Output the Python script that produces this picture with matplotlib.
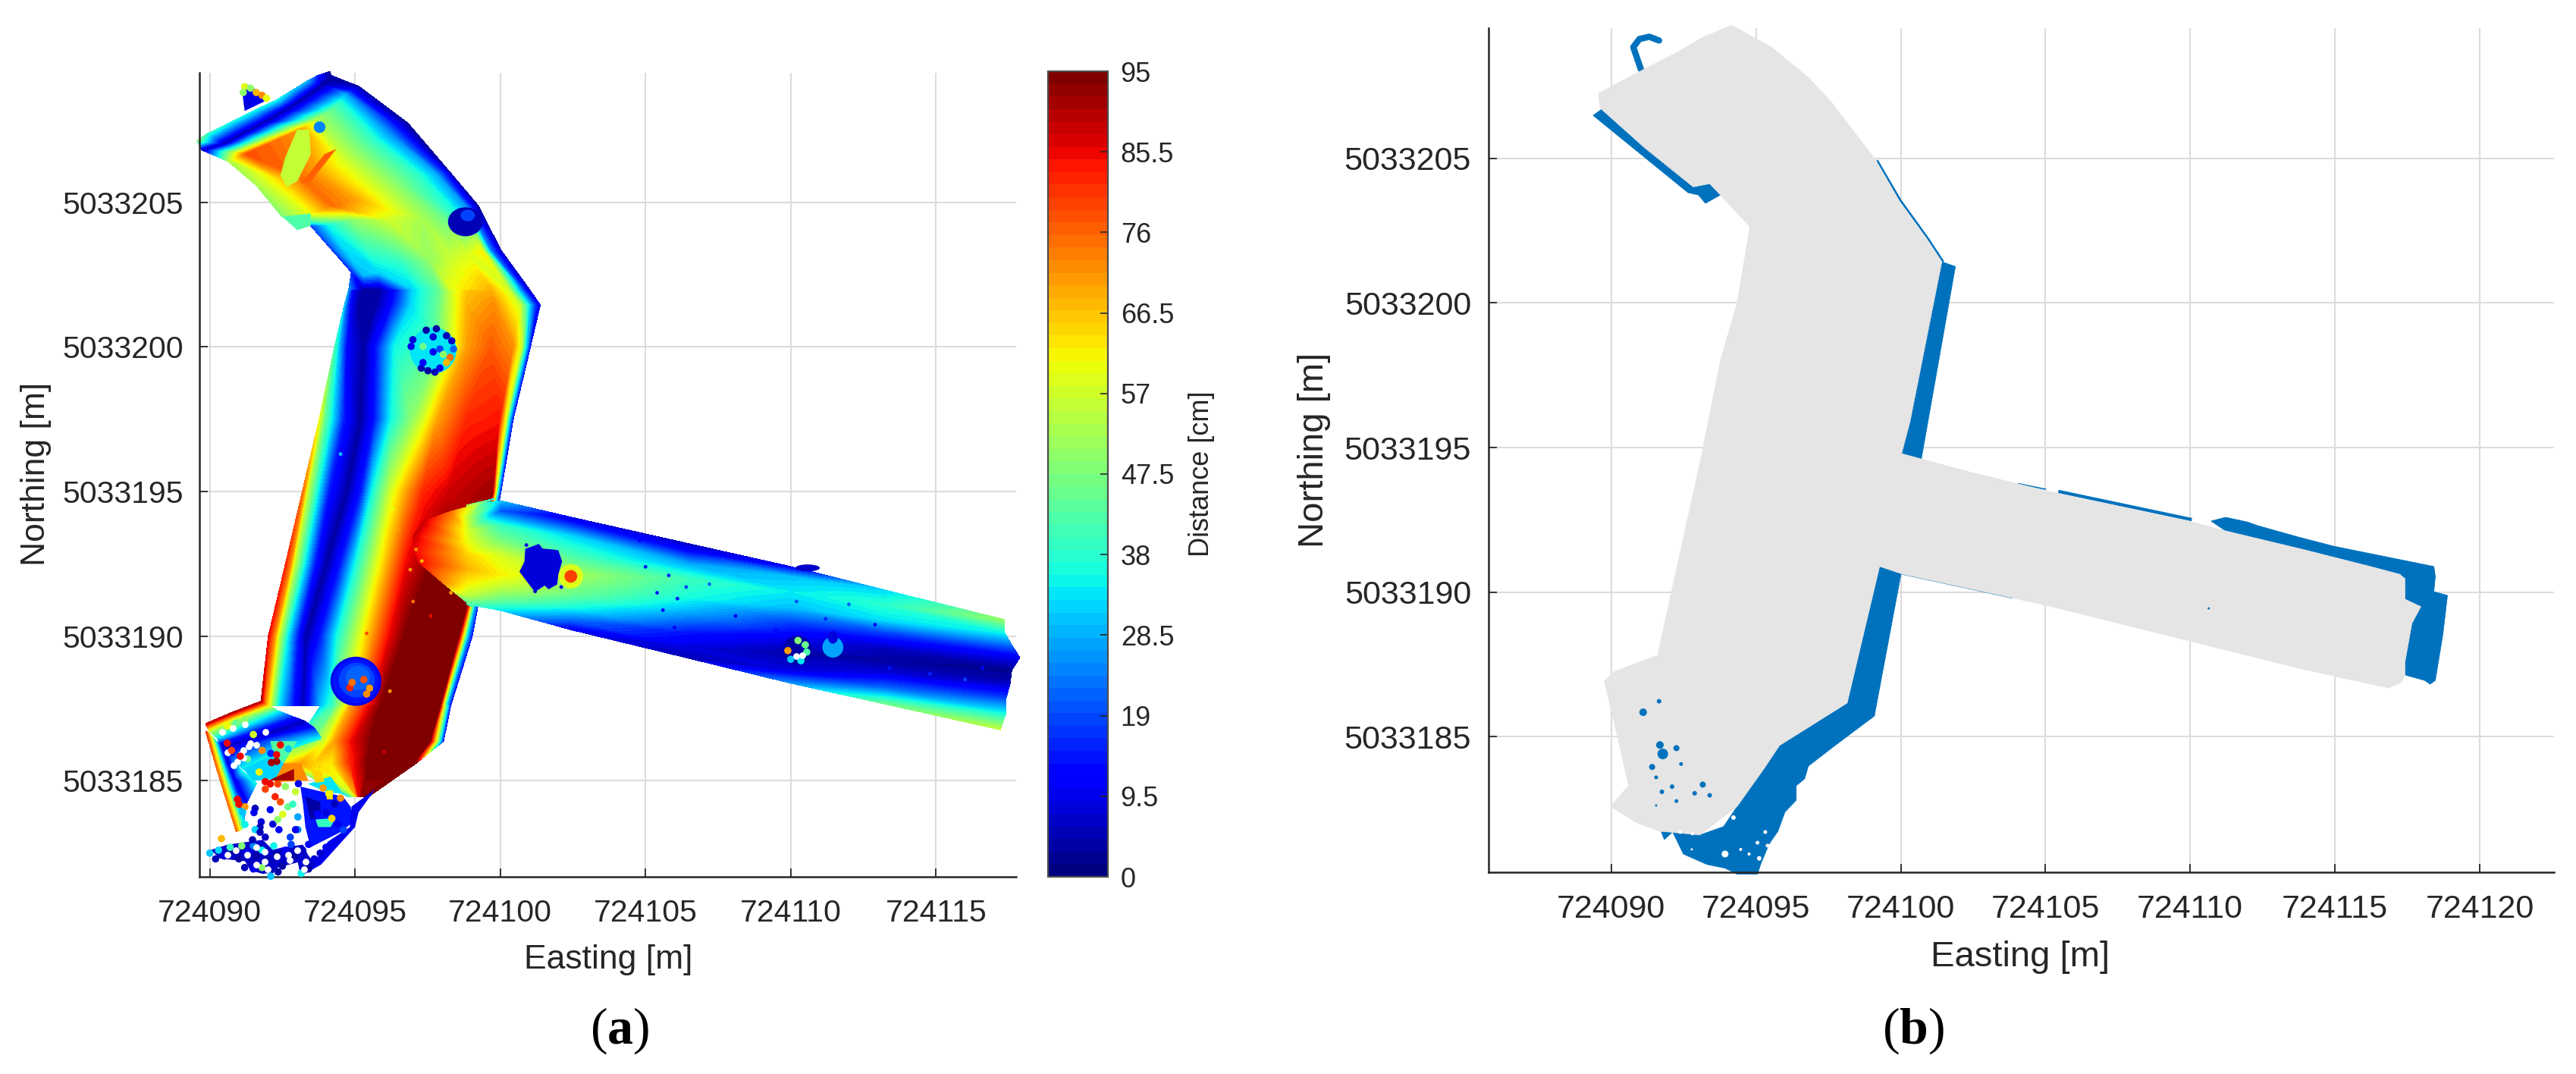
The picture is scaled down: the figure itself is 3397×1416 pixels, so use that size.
import numpy as np
import matplotlib
matplotlib.use('Agg')
import matplotlib.pyplot as plt
import matplotlib.tri as mtri
from matplotlib.cm import ScalarMappable
from matplotlib.colors import Normalize
from matplotlib.patches import Ellipse

plt.rcParams['font.family'] = ['Liberation Sans', 'DejaVu Sans']
plt.rcParams['mathtext.fontset'] = 'custom'
plt.rcParams['mathtext.bf'] = 'Liberation Serif:bold'
plt.rcParams['mathtext.rm'] = 'Liberation Serif'

# coordinates below are metres relative to these
E0 = 724000
N0 = 5033000

# ---- panel (a): distance readings, rows of cross sections ----
main_n = [187.6, 190.0, 192.5, 195.0, 197.5, 200.0, 201.45, 202.0]
main_e = [
    [91.75, 91.90, 92.08, 92.34, 92.84, 93.22, 93.83, 94.24, 94.71, 95.12, 95.53, 95.93, 97.92, 98.04, 98.15, 98.29],
    [92.02, 92.22, 92.37, 92.66, 93.01, 93.31, 93.83, 94.36, 95.12, 95.58, 96.17, 96.75, 98.56, 98.74, 98.86, 99.03],
    [92.61, 92.78, 92.90, 93.25, 93.60, 94.01, 94.53, 95.00, 95.70, 96.17, 96.75, 97.69, 99.21, 99.32, 99.42, 99.50],
    [93.19, 93.27, 93.34, 93.71, 94.07, 94.71, 95.23, 95.58, 96.23, 96.69, 97.34, 98.27, 99.73, 99.85, 99.93, 100.02],
    [93.77, 93.86, 93.95, 94.18, 94.59, 95.18, 95.70, 96.23, 96.99, 97.34, 97.86, 98.86, 99.96, 100.20, 100.32, 100.44],
    [94.30, 94.33, 94.37, 94.44, 94.71, 95.29, 95.76, 96.34, 97.80, 98.27, 98.86, 99.67, 100.43, 100.72, 100.90, 101.03],
    [94.64, 94.67, 94.74, 94.88, 95.14, 95.70, 96.23, 96.93, 97.86, 98.33, 98.86, 99.79, 100.67, 100.96, 101.19, 101.37],
    [94.79, 94.82, 94.88, 95.00, 95.29, 95.82, 96.34, 96.99, 97.92, 98.33, 98.86, 99.67, 100.26, 100.55, 100.78, 100.99],
]
main_v = [
    [90, 72, 57, 35, 15, 5, 30, 40, 60, 70, 85, 95, 95, 57, 30, 12],
    [85, 72, 57, 35, 15, 3, 15, 35, 57, 70, 85, 95, 95, 57, 30, 12],
    [82, 72, 57, 35, 15, 3, 15, 35, 57, 70, 85, 95, 95, 57, 30, 12],
    [75, 68, 57, 35, 15, 3, 15, 35, 57, 68, 82, 88, 92, 57, 30, 12],
    [60, 52, 45, 35, 15, 3, 15, 35, 50, 57, 70, 82, 84, 57, 30, 12],
    [40, 38, 36, 30, 12, 3, 15, 35, 45, 57, 70, 77, 72, 57, 30, 12],
    [30, 25, 18, 10, 3, 3, 12, 32, 45, 57, 68, 72, 57, 35, 18, 8],
    [25, 20, 15, 8, 3, 3, 12, 32, 45, 57, 66, 68, 57, 35, 18, 5],
]

arm_e = [
    [94.79, 95.29, 95.82, 96.99, 97.92, 98.33, 99.67, 100.26, 100.78, 100.99],
    [94.88, 95.29, 95.82, 96.64, 97.57, 98.27, 98.86, 99.38, 99.67, 100.02],
    [93.48, 94.07, 95.00, 96.17, 97.34, 98.04, 98.50, 98.86, 99.09, 99.23],
    [92.49, 93.48, 94.18, 95.00, 95.70, 96.40, 97.22, 97.80, 98.10, 98.27],
    [91.61, 92.43, 93.07, 93.71, 94.53, 95.12, 95.70, 96.17, 96.52, 96.81],
    [90.62, 91.26, 92.31, 93.13, 93.71, 94.18, 94.47, 94.65, 94.88, 95.12],
    [89.74, 90.50, 91.14, 91.85, 92.55, 93.13, 93.60, 93.89, 94.07, 94.18],
    [89.57, 89.92, 90.68, 91.50, 92.31, 92.90, 93.36, 93.71, 94.01, 94.12],
]
arm_n = [
    [202.0, 202.0, 202.0, 202.0, 202.0, 202.0, 202.0, 202.0, 202.0, 202.0],
    [202.59, 202.50, 202.59, 202.83, 203.01, 203.11, 203.20, 203.30, 203.30, 203.34],
    [204.19, 204.23, 204.42, 204.42, 204.42, 204.42, 204.61, 204.79, 204.84, 204.89],
    [204.51, 204.61, 204.89, 205.07, 205.45, 205.73, 205.92, 205.96, 206.01, 206.03],
    [205.59, 205.82, 205.92, 206.01, 206.48, 206.81, 207.13, 207.42, 207.60, 207.74],
    [206.43, 206.67, 207.13, 207.51, 207.88, 208.16, 208.45, 208.73, 208.87, 209.01],
    [206.81, 207.04, 207.37, 207.74, 208.16, 208.54, 208.87, 209.10, 209.24, 209.38],
    [207.13, 207.37, 207.74, 208.16, 208.54, 208.91, 209.19, 209.38, 209.48, 209.52],
]
arm_v = [
    [25, 3, 3, 32, 45, 60, 68, 57, 18, 5],
    [15, 30, 32, 38, 50, 56, 58, 62, 25, 5],
    [18, 35, 50, 57, 52, 46, 36, 26, 10, 2],
    [48, 60, 75, 70, 58, 48, 38, 28, 14, 3],
    [52, 65, 75, 70, 58, 48, 38, 25, 12, 2],
    [52, 78, 75, 70, 52, 45, 38, 28, 12, 4],
    [3, 3, 3, 3, 3, 3, 3, 3, 3, 3],
    [48, 38, 35, 35, 35, 30, 28, 15, 5, 3],
]

branch_e = [
    [99.79, 99.21, 98.27, 97.34, 96.99, 97.04, 97.22, 98.04, 99.03],
    [98.86, 98.86, 98.86, 98.86, 98.86, 98.86, 98.86, 98.86, 98.86],
    [100.0, 100.0, 100.0, 100.0, 100.0, 100.0, 100.0, 100.0, 100.0],
    [102.47, 102.47, 102.47, 102.47, 102.47, 102.47, 102.47, 102.47, 102.47],
    [106.5, 106.5, 106.5, 106.5, 106.5, 106.5, 106.5, 106.5, 106.5],
    [110.0, 110.0, 110.0, 110.0, 110.0, 110.0, 110.0, 110.0, 110.0],
    [113.2, 113.2, 113.2, 113.2, 113.2, 113.2, 113.2, 113.2, 113.2],
    [117.35, 117.35, 117.6, 117.88, 117.6, 117.55, 117.41, 117.4, 117.21],
]
branch_n = [
    [194.75, 194.55, 194.30, 193.95, 193.44, 192.94, 192.54, 191.84, 191.03],
    [194.53, 194.10, 193.64, 193.24, 192.79, 192.34, 191.84, 191.44, 191.11],
    [194.68, 194.33, 193.80, 193.37, 192.75, 192.14, 191.70, 191.27, 190.90],
    [194.10, 193.89, 193.45, 192.75, 192.14, 191.44, 191.01, 190.57, 190.22],
    [193.19, 192.93, 192.49, 191.97, 191.35, 190.83, 190.13, 189.61, 189.24],
    [192.40, 192.05, 191.53, 191.00, 190.48, 189.96, 189.43, 188.82, 188.38],
    [191.60, 191.09, 190.57, 190.13, 189.61, 189.17, 188.73, 188.21, 187.67],
    [190.57, 190.13, 189.69, 189.26, 188.82, 188.38, 187.86, 187.33, 186.77],
]
branch_v = [
    [35, 52, 75, 88, 88, 85, 85, 72, 35],
    [52, 55, 58, 60, 65, 68, 62, 55, 42],
    [30, 20, 40, 46, 58, 62, 55, 45, 33],
    [8, 15, 32, 42, 52, 45, 36, 22, 10],
    [6, 12, 28, 40, 36, 28, 14, 8, 5],
    [10, 30, 34, 30, 18, 10, 4, 8, 25],
    [32, 38, 33, 18, 6, 3, 8, 22, 45],
    [50, 35, 22, 10, 2, 5, 18, 35, 55],
]

floor_e = [
    [93.83, 94.30, 94.59, 94.88, 95.47, 95.93, 97.92, 98.06, 98.29],
    [93.01, 93.60, 93.95, 94.30, 94.88, 95.58, 97.57, 97.80, 98.04],
    [92.55, 93.13, 93.60, 94.18, 94.82, 95.47, 96.99, 97.05, 97.10],
    [94.77, 94.88, 95.00, 95.06, 95.12, 95.23, 95.35, 95.41, 95.47],
]
floor_n = [
    [187.6] * 9,
    [186.37] * 9,
    [185.61] * 9,
    [184.46] * 9,
]
floor_v = [
    [30, 42, 57, 70, 85, 95, 95, 57, 12],
    [45, 48, 57, 70, 85, 95, 95, 57, 12],
    [62, 70, 65, 62, 82, 95, 95, 95, 95],
    [30, 45, 57, 70, 85, 92, 95, 95, 95],
]

bend_e = [
    [91.75, 92.02, 92.34, 92.84, 93.25, 93.60, 93.83],
    [90.79, 90.97, 91.32, 91.61, 91.96, 92.08, 92.20],
    [89.86, 89.98, 90.27, 90.33, 90.50, 90.68, 91.14],
]
bend_n = [
    [187.74, 187.60, 187.42, 187.22, 187.07, 186.82, 186.47],
    [187.37, 187.17, 186.97, 186.77, 186.62, 186.37, 185.91],
    [186.97, 186.72, 186.47, 186.32, 186.16, 185.91, 185.41],
]
bend_v = [
    [90, 60, 35, 15, 5, 15, 35],
    [90, 55, 35, 15, 5, 20, 35],
    [88, 55, 32, 15, 5, 15, 35],
]

wall_e = [
    [89.86, 90.04, 90.21, 90.44, 91.09],
    [90.27, 90.44, 90.62, 90.85, 91.50],
    [90.91, 91.05, 91.14, 91.26, 91.60],
]
wall_n = [
    [186.72, 186.57, 186.37, 186.16, 185.36],
    [185.31, 185.21, 185.11, 185.01, 185.01],
    [183.25, 183.30, 183.40, 184.21, 184.90],
]
wall_v = [
    [80, 57, 30, 5, 35],
    [75, 57, 30, 8, 35],
    [75, 57, 40, 10, 35],
]

# flat pieces: corners and one reading each
piece_e = [
    [91.09, 91.20, 92.08, 91.26],
    [92.49, 93.01, 93.48, 93.48],
    [92.08, 93.01, 92.55, 92.20],
    [91.14, 92.20, 92.55, 92.55, 91.50],
    [92.55, 93.13, 93.4, 92.2],
    [92.02, 92.90, 92.90],
    [93.12, 94.59, 94.85, 94.94, 94.51, 93.47, 93.29, 93.21],
    [93.38, 94.16, 94.59, 93.99],
    [93.29, 93.81, 93.81, 93.47],
    [93.64, 94.33, 94.16, 93.73],
    [93.51, 93.86, 93.94, 93.64],
    [93.99, 94.25, 94.25, 94.03],
    [95.70, 94.88, 94.82, 94.07, 93.60, 93.13, 93.83, 95.00, 95.12],
    [90.04, 90.61, 91.82, 92.17, 92.51, 93.21, 93.38, 93.64, 93.12, 93.03, 92.34, 92.17, 91.82, 91.39, 91.21, 90.35],
    [100.86, 101.06, 101.33, 101.46, 101.80, 102.00, 102.13, 102.00, 101.96, 101.66, 101.53, 101.19, 100.99, 100.66, 100.83],
    [92.43, 92.66, 93.01, 93.48, 93.42, 93.01, 92.60],
    [93.13, 93.48, 94.36, 93.95],
]
piece_n = [
    [209.01, 208.16, 208.59, 209.10],
    [204.51, 204.04, 204.19, 204.61],
    [186.37, 186.37, 185.61, 185.91],
    [185.41, 185.91, 185.61, 185.10, 185.00],
    [185.61, 185.61, 185.00, 184.95],
    [185.01, 185.41, 185.01],
    [184.80, 184.45, 184.10, 183.58, 183.23, 182.70, 183.40, 184.19],
    [184.89, 185.15, 184.54, 184.62],
    [184.45, 184.27, 183.75, 183.66],
    [183.66, 183.71, 183.40, 183.40],
    [185.32, 185.37, 184.97, 184.93],
    [184.67, 184.67, 184.36, 184.36],
    [184.71, 184.11, 183.40, 182.90, 182.20, 181.70, 182.10, 183.40, 183.91],
    [182.61, 182.79, 182.96, 182.61, 182.70, 182.79, 182.44, 182.09, 181.74, 182.18, 182.00, 181.83, 181.78, 181.91, 182.22, 182.31],
    [193.02, 193.09, 193.19, 193.03, 193.00, 192.97, 192.58, 192.14, 191.79, 191.62, 191.75, 191.53, 191.79, 192.23, 192.58],
    [205.92, 205.54, 205.73, 206.67, 207.51, 207.51, 206.57],
    [205.64, 205.73, 206.85, 206.67],
]
piece_v = [10, 42, 42, 32, 72, 92, 14, 33, 4, 40, 65, 65, 10, 6, 8, 55, 76]

# round objects: centre, half widths, reading
obj_e = [95.03, 95.03, 95.06, 95.10, 97.69, 98.80, 98.88, 110.24, 111.45, 111.45, 110.58, 102.43, 102.43, 93.78]
obj_n = [188.44, 188.44, 188.48, 188.55, 199.88, 204.33, 204.55, 189.52, 189.62, 189.96, 192.36, 192.07, 192.07, 207.6]
obj_rx = [0.875, 0.78, 0.62, 0.42, 0.8, 0.6, 0.25, 0.5, 0.36, 0.17, 0.42, 0.42, 0.22, 0.2]
obj_ry = [0.85, 0.76, 0.6, 0.42, 0.8, 0.5, 0.2, 0.5, 0.36, 0.22, 0.12, 0.42, 0.22, 0.2]
obj_v = [10, 14, 18, 22, 34, 5, 18, 4, 28, 8, 6, 58, 80, 24]

# speckle: readings of single points
dot_e = [97.45, 97.80, 98.15, 98.33, 97.69, 96.99, 96.93, 97.28, 97.51, 97.75, 97.92, 97.34, 97.69, 97.92,
         98.27, 98.15, 98.04, 98.39, 97.34,
         94.82, 94.9, 95.3, 95.5, 95.4,
         91.2, 91.4, 91.6, 91.8, 91.95, 91.15, 91.3,
         109.9, 110.25, 110.5, 110.0, 110.35, 110.55, 110.3,
         90.0, 90.2, 90.5, 90.8, 91.0, 91.3, 91.6, 91.8, 92.0, 92.3, 92.6, 92.9, 93.2, 93.4, 91.2,
         91.5, 91.8, 92.1, 92.35, 92.1, 92.5, 93.2, 93.4, 93.15, 93.6, 93.8, 94.0, 90.3, 90.7, 91.1, 91.5, 92.2,
         92.8, 90.4, 91.5, 91.2, 90.9, 90.6, 91.8, 92.1, 92.4, 90.75, 91.3, 91.7, 92.3, 92.7, 93.05,
         93.9, 94.1, 94.3, 94.0, 94.5, 93.7, 94.2, 93.6, 94.6, 94.4]
dot_n = [200.58, 200.63, 200.39, 200.21, 200.35, 200.25, 200.02, 199.27, 199.18, 199.13, 199.27, 199.46, 199.83, 199.93,
         199.64, 199.46, 199.74, 199.93, 200.02,
         188.22, 188.4, 188.5, 188.2, 188.0,
         209.0, 208.95, 208.8, 208.7, 208.6, 208.8, 208.4,
         189.5, 189.85, 189.7, 189.2, 189.15, 189.45, 189.5,
         182.5, 182.3, 182.4, 182.55, 182.3, 182.5, 182.4, 182.6, 182.3, 182.45, 182.6, 182.4, 182.6, 182.8, 182.0,
         181.95, 182.0, 181.9, 181.85, 181.7, 182.05, 182.2, 181.95, 181.8, 182.3, 182.5, 182.7, 182.6, 182.7, 182.75, 182.75, 182.75,
         182.8, 183.0, 186.6, 187.1, 187.0, 186.9, 186.05, 185.95, 186.2, 186.0, 185.75, 185.3, 185.9, 186.1, 184.9,
         184.75, 184.55, 184.2, 183.9, 184.4, 183.85, 183.7, 184.1, 183.3, 183.5]
dot_v = [4, 4, 5, 6, 8, 8, 10, 5, 3, 5, 10, 12, 10, 18,
         75, 68, 50, 22, 45,
         82, 75, 78, 70, 72,
         58, 50, 68, 72, 60, 50, 8,
         70, 48, 45, 30, 33, 42, 3,
         30, 5, 8, 3, 4, 12, 3, 35, 5, 3, 10, 4, 6, 12, 5,
         10, 50, 5, 3, 30, 3, 8, 3, 35, 8, 6, 10, 32, 40, 48, 25, 35,
         18, 68, 57, 50, 45, 60, 72, 15, 50, 8, 45, 62, 85, 30, 10,
         70, 62, 5, 8, 72, 12, 65, 3, 18, 10]

pit_e = [91.56, 91.77, 91.73, 91.52, 92.08, 92.17, 92.34, 92.51, 92.69, 92.86,
         92.95, 92.6, 92.25, 92.43, 92.08, 92.34, 91.91, 91.91, 91.21, 91.0,
         90.95, 91.21, 91.56, 91.13, 93.03, 93.03, 91.73, 91.91, 91.47, 92.38,
         92.95, 92.77, 92.3, 92.12, 92.43, 90.6, 91.05, 90.75]
pit_n = [184.05, 183.58, 183.4, 183.9, 184.0, 183.5, 183.66, 183.84, 184.1, 184.19,
         184.62, 184.8, 184.45, 184.27, 184.89, 184.89, 184.71, 184.97, 184.1, 184.19,
         184.36, 183.49, 183.31, 183.92, 183.31, 183.75, 183.22, 183.05, 182.96, 183.31,
         183.31, 183.05, 185.67, 185.63, 186.24, 186.3, 185.85, 186.05]
pit_v = [5, 8, 5, 10, 12, 8, 50, 58, 45, 40,
         55, 50, 82, 78, 85, 80, 80, 85, 70, 85,
         85, 35, 32, 30, 25, 28, 5, 6, 5, 12,
         10, 18, 92, 92, 85, 85, 85, 80]

fleck_e = [97.1, 97.3, 96.9, 97.0, 97.6, 96.5, 96.3, 98.3, 94.5, 95.4, 96.0, 96.2,
           105.0, 105.4, 105.8, 106.1, 106.4, 105.6, 106.0, 107.2, 108.1, 109.5, 110.2, 111.2, 112.0, 112.9,
           100.9, 101.2, 102.1, 104.3, 104.8, 113.4, 114.8, 116.0, 116.6]
fleck_n = [193.0, 192.6, 192.3, 191.2, 190.7, 193.7, 194.4, 191.5, 196.3, 190.1, 186.0, 188.1,
           192.4, 191.5, 192.1, 191.3, 191.7, 190.9, 190.3, 191.8, 190.7, 190.2, 191.2, 190.6, 191.1, 190.4,
           193.15, 191.55, 191.7, 193.6, 193.3, 188.9, 188.7, 188.5, 188.9]
fleck_v = [72, 68, 70, 75, 85, 70, 60, 70, 30, 78, 88, 70,
           14, 14, 16, 14, 18, 12, 10, 22, 10, 12, 20, 16, 22, 12,
           10, 6, 10, 10, 12, 14, 16, 18, 12]

hole_e = [90.43, 90.78, 91.21, 91.91, 91.6, 91.34, 91.08, 91.17, 90.61, 90.82, 90.95, 91.4, 91.15,
          90.6, 90.9, 91.3, 91.6, 91.9, 92.3, 92.7, 93.0, 92.75, 93.3, 91.6, 91.9, 92.0, 93.25,
          110.4, 110.2]
hole_n = [186.68, 186.81, 186.94, 186.68, 186.24, 186.2, 185.94, 185.8, 185.98, 185.54, 185.67, 186.3, 186.05,
          182.45, 182.6, 182.45, 182.7, 182.55, 182.4, 182.45, 182.6, 182.25, 182.2, 182.1, 182.2, 181.95, 181.95,
          189.35, 189.3]

# ---- panel (b): covered area, missing area ----
grey_e = [94.16, 93.17, 92.25, 91.02, 89.55, 89.61, 91.13, 92.83, 93.40, 93.77, 94.79, 94.35, 93.77, 93.12, 92.07,
          91.60, 90.13, 89.76, 90.21, 90.60, 89.97, 90.84, 91.65, 93.06, 94.35, 95.29, 95.81, 98.15, 99.27, 100.08,
          103.83, 105.01, 109.96, 113.97, 116.85, 117.29, 117.42, 117.42, 117.66, 117.97, 117.42, 117.42, 117.24,
          116.22, 113.97, 111.22, 109.96, 105.01, 102.44, 100.03, 100.32, 101.42, 100.90, 99.95, 99.14, 97.62,
          96.81, 95.53]
grey_n = [209.60, 209.18, 208.65, 208.02, 207.24, 206.74, 205.38, 204.01, 204.12, 203.73, 202.63, 200.01, 198.01,
          194.74, 189.97, 187.82, 187.27, 186.93, 185.02, 183.31, 182.60, 182.05, 181.74, 181.61, 182.60, 183.92,
          184.70, 186.17, 190.89, 190.62, 189.81, 189.55, 188.32, 187.32, 186.69, 186.88, 187.14, 187.58, 188.92,
          189.50, 189.76, 190.47, 190.62, 190.89, 191.46, 192.12, 192.46, 193.51, 194.14, 194.79, 195.89, 201.42,
          202.21, 203.52, 204.93, 206.92, 207.79, 208.84]

strip_e = [89.37, 89.66, 91.13, 92.83, 93.40, 93.77, 93.25, 93.01, 92.65]
strip_n = [206.48, 206.69, 205.38, 204.01, 204.12, 203.73, 203.44, 203.73, 203.81]
wall_blue_e = [101.42, 101.89, 100.71, 100.03]
wall_blue_n = [201.42, 201.26, 194.59, 194.79]
lower_e = [99.27, 100.03, 99.09, 97.73, 96.81, 96.68, 96.39, 96.39, 96.00, 95.76, 95.45, 95.16, 95.05, 94.35, 93.93,
           93.30, 92.49, 92.12, 91.83, 91.68, 92.54, 92.88, 93.06, 93.88, 94.35, 95.29, 95.81, 98.15]
lower_n = [190.89, 190.73, 185.72, 184.70, 183.99, 183.55, 183.31, 182.81, 182.40, 181.74, 181.29, 180.59, 180.25,
           180.25, 180.46, 180.59, 180.95, 181.71, 181.45, 181.84, 182.05, 182.29, 181.61, 181.90, 182.60, 183.92,
           184.70, 186.17]
end_e = [110.72, 111.22, 111.97, 112.34, 113.73, 114.96, 118.42, 118.47, 118.42, 118.89, 118.73, 118.47, 118.29,
         118.10, 117.42, 117.42, 117.66, 117.97, 117.42, 117.42, 117.24, 116.22, 113.97, 111.22]
end_n = [192.46, 192.59, 192.43, 192.30, 191.91, 191.59, 190.89, 190.55, 190.02, 189.89, 188.53, 186.95, 186.82,
         186.95, 187.14, 187.58, 188.92, 189.50, 189.76, 190.47, 190.62, 190.89, 191.46, 192.12]
hook_e = [91.02, 90.76, 90.97, 91.31, 91.65]
hook_n = [208.08, 208.84, 209.12, 209.20, 209.07]
edge1_e = [99.2, 99.98, 100.93, 101.45]
edge1_n = [204.9, 203.56, 202.24, 201.45]
edge2_e = [100.08, 103.83]
edge2_n = [190.64, 189.83]
edge3_e = [104.07, 105.0]
edge3_n = [193.75, 193.56]
edge4_e = [105.5, 110.0]
edge4_n = [193.47, 192.52]
speck_e = [91.10, 91.65, 91.78, 91.68, 92.25, 91.41, 91.55, 92.41, 93.16, 92.88, 93.40, 92.10, 91.75, 92.25, 91.55, 110.64]
speck_n = [185.85, 186.23, 184.41, 184.72, 184.61, 183.96, 183.60, 184.06, 183.35, 183.05, 182.98, 183.28, 183.10, 182.78, 182.63, 189.44]
speck_s = [10, 6, 14, 10, 8, 8, 5, 5, 8, 6, 6, 6, 6, 5, 3, 3]
gap_e = [93.93, 92.80, 92.38, 94.22, 95.32, 94.47, 95.11, 94.76, 95.05, 95.40, 92.78]
gap_n = [180.95, 181.66, 181.71, 182.21, 181.71, 181.11, 180.8, 180.95, 181.34, 181.24, 181.11]
gap_s = [9, 5, 5, 6, 5, 4, 6, 4, 5, 5, 3]

x_ticks_a = [724090, 724095, 724100, 724105, 724110, 724115]
x_ticks_b = [724090, 724095, 724100, 724105, 724110, 724115, 724120]
y_ticks_a = [5033185, 5033190, 5033195, 5033200, 5033205]
cbar_ticks = [0, 9.5, 19, 28.5, 38, 47.5, 57, 66.5, 76, 85.5, 95]
cbar_labels = ['0', '9.5', '19', '28.5', '38', '47.5', '57', '66.5', '76', '85.5', '95']

TEXT = '#262626'
GRID = '#dcdcdc'
BLUE = '#0072bd'
GREY = '#e5e5e5'
W, H = 3397, 1416

jet64 = plt.get_cmap('jet', 64)
dist_norm = Normalize(0, 95)
levels = np.linspace(0, 95, 65)
levels[-1] = 96  # so the plateau at 95 stays filled


def box(left, top, right, bottom):
    return [left / W, 1 - bottom / H, (right - left) / W, (bottom - top) / H]


def style(ax, size, ypad):
    ax.spines['top'].set_visible(False)
    ax.spines['right'].set_visible(False)
    for s in ['left', 'bottom']:
        ax.spines[s].set_linewidth(1.8)
        ax.spines[s].set_color(TEXT)
    ax.grid(True, color=GRID, linewidth=1.5)
    ax.set_axisbelow(True)
    ax.tick_params(direction='in', length=8, width=1.3, color=TEXT, labelcolor=TEXT, labelsize=size)
    ax.tick_params(axis='x', pad=21)
    ax.tick_params(axis='y', pad=ypad)
    ax.ticklabel_format(useOffset=False, style='plain')


def draw_mesh(ax, e, n, v):
    e = E0 + np.array(e, dtype=float)
    n = N0 + np.array(n, dtype=float)
    if n.ndim == 1:
        n = np.repeat(n[:, None], e.shape[1], axis=1)
    v = np.array(v, dtype=float)
    rows, cols = e.shape
    idx = np.arange(rows * cols).reshape(rows, cols)
    a, b = idx[:-1, :-1].ravel(), idx[:-1, 1:].ravel()
    c, d = idx[1:, :-1].ravel(), idx[1:, 1:].ravel()
    tris = np.vstack([np.c_[a, b, c], np.c_[b, d, c]])
    tri = mtri.Triangulation(e.ravel(), n.ravel(), tris)
    cs = ax.tricontourf(tri, v.ravel(), levels=levels, cmap=jet64, norm=dist_norm, zorder=2)
    cs.set_edgecolor('face')
    cs.set_linewidth(0.4)
    cs.set_clip_on(False)


fig = plt.figure(figsize=(W / 100, H / 100), dpi=100)

# panel (a)
ax = fig.add_axes(box(262.5, 96, 1340, 1156))
style(ax, 29.5, 15)
for e, n, v in [(main_e, main_n, main_v), (floor_e, floor_n, floor_v), (bend_e, bend_n, bend_v),
                (wall_e, wall_n, wall_v), (arm_e, arm_n, arm_v), (branch_e, branch_n, branch_v)]:
    draw_mesh(ax, e, n, v)
for e, n, v in zip(piece_e, piece_n, piece_v):
    ax.fill(E0 + np.array(e), N0 + np.array(n), color=jet64(dist_norm(v)), lw=0, zorder=3, clip_on=False)
for e, n, rx, ry, v in zip(obj_e, obj_n, obj_rx, obj_ry, obj_v):
    ax.add_patch(Ellipse((E0 + e, N0 + n), 2 * rx, 2 * ry, fc=jet64(dist_norm(v)), ec='none', zorder=3))
ax.scatter(E0 + np.array(fleck_e), N0 + np.array(fleck_n), c=fleck_v, cmap=jet64, norm=dist_norm, s=12, lw=0, zorder=4)
ax.scatter(E0 + np.array(dot_e), N0 + np.array(dot_n), c=dot_v, cmap=jet64, norm=dist_norm, s=48, lw=0,
           zorder=4, clip_on=False)
ax.scatter(E0 + np.array(hole_e), N0 + np.array(hole_n), c='white', s=40, lw=0, zorder=5)
ax.scatter(E0 + np.array(pit_e), N0 + np.array(pit_n), c=pit_v, cmap=jet64, norm=dist_norm, s=48, lw=0, zorder=6)
ax.set_xlim(724089.63, 724117.76)
ax.set_ylim(5033181.68, 5033209.48)
ax.set_xticks(x_ticks_a)
ax.set_yticks(y_ticks_a)

# colour bar
cax = fig.add_axes(box(1382, 94, 1461, 1156))
cbar = fig.colorbar(ScalarMappable(norm=dist_norm, cmap=jet64), cax=cax, ticks=cbar_ticks)
cbar.ax.set_yticklabels(cbar_labels)
cbar.ax.tick_params(direction='in', length=7, width=1.2, color=TEXT, labelcolor=TEXT, labelsize=26, pad=12)
cbar.outline.set_edgecolor('#4d4d4d')
cbar.outline.set_linewidth(1.6)

# panel (b)
bx = fig.add_axes(box(1963, 37, 3368, 1150))
style(bx, 31, 16.5)
for e, n in [(strip_e, strip_n), (wall_blue_e, wall_blue_n), (lower_e, lower_n), (end_e, end_n)]:
    bx.fill(E0 + np.array(e), N0 + np.array(n), color=BLUE, lw=0.5, zorder=2, clip_on=False)
bx.plot(E0 + np.array(hook_e), N0 + np.array(hook_n), color=BLUE, lw=6, solid_capstyle='round', zorder=2, clip_on=False)
bx.plot(E0 + np.array(edge1_e), N0 + np.array(edge1_n), color=BLUE, lw=2.0, zorder=2)
bx.plot(E0 + np.array(edge2_e), N0 + np.array(edge2_n), color=BLUE, lw=2.2, zorder=2)
bx.plot(E0 + np.array(edge3_e), N0 + np.array(edge3_n), color=BLUE, lw=1.2, zorder=2)
bx.plot(E0 + np.array(edge4_e), N0 + np.array(edge4_n), color=BLUE, lw=3.2, zorder=2)
bx.fill(E0 + np.array(grey_e), N0 + np.array(grey_n), color=GREY, lw=0.5, zorder=3, clip_on=False)
bx.scatter(E0 + np.array(speck_e), N0 + np.array(speck_n), c=BLUE, s=[(0.72 * p) ** 2 for p in speck_s], lw=0, zorder=4)
bx.scatter(E0 + np.array(gap_e), N0 + np.array(gap_n), c='white', s=[(0.72 * p) ** 2 for p in gap_s], lw=0, zorder=4)
bx.set_xlim(724085.76, 724122.57)
bx.set_ylim(5033180.32, 5033209.5)
bx.set_xticks(x_ticks_b)
bx.set_yticks(y_ticks_a)

# axis texts
def label(x, y, s, size, rot=0):
    fig.text(x / W, 1 - y / H, s, fontsize=size, color=TEXT, rotation=rot, ha='center', va='center')


label(802, 1265, 'Easting [m]', 32)
label(2664, 1262, 'Easting [m]', 34)
label(48, 625, 'Northing [m]', 32, 90)
label(1733, 593, 'Northing [m]', 34, 90)
label(1584, 625, 'Distance [cm]', 26, 90)

fig.text(817 / W, 1 - 1359 / H, r'($\mathbf{a}$)', fontsize=49, family='Liberation Serif', ha='center', va='center')
fig.text(2523 / W, 1 - 1359 / H, r'($\mathbf{b}$)', fontsize=49, family='Liberation Serif', ha='center', va='center')

fig.savefig('out.png', dpi=100)
